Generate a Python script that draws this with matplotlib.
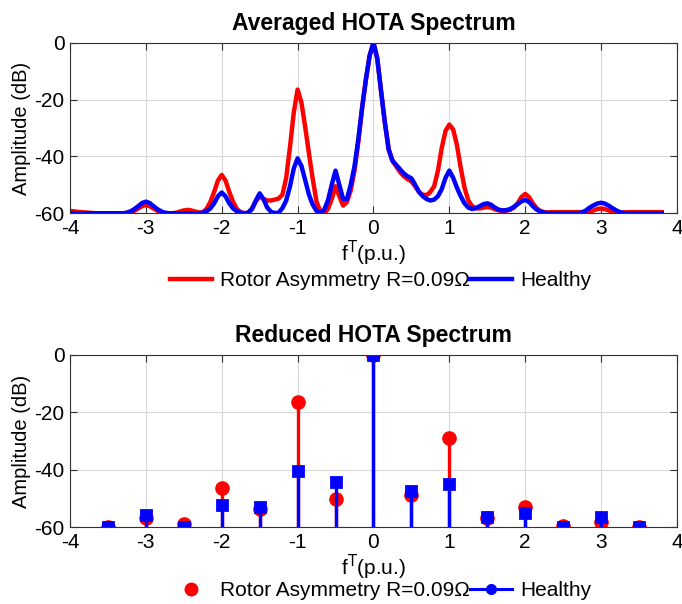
import numpy as np
import matplotlib
matplotlib.use("Agg")
import matplotlib.pyplot as plt
from matplotlib.lines import Line2D

plt.rcParams['font.family'] = ['Liberation Sans', 'DejaVu Sans']
plt.rcParams['axes.unicode_minus'] = False

# averaged spectrum, sampled every 0.05 p.u. from -4 to 3.8
freq = np.round(np.arange(-4.0, 3.801, 0.05), 2)

avg_rotor = [
    -59.2, -59.3, -59.5, -59.6, -59.7, -59.8, -59.9, -60, -60, -60,
    -60, -60, -60, -60, -60, -59.9, -59.6, -59.1, -58.3, -57.5,
    -57.1, -57.5, -58.3, -59.1, -59.6, -59.9, -60, -60, -59.8, -59.4,
    -59.0, -58.8, -59.0, -59.4, -59.7, -59.6, -58.5, -56.0, -52.5, -48.5,
    -46.5, -48.5, -52.5, -56.0, -58.5, -59.6, -60, -59.8, -58.2, -55.8,
    -54.0, -55.0, -55.5, -55.5, -55.2, -54.8, -53.5, -47.5, -36.6, -24.5,
    -16.5, -21.0, -29.6, -39.0, -48.0, -56.0, -59.4, -60, -58.5, -55.0,
    -50.5, -54.0, -57.3, -56.0, -52.0, -45.0, -35.0, -23.0, -13.0, -4.5,
    0, -5.5, -17, -28, -37.5, -41.5, -43.5, -45.5, -47, -48,
    -48.8, -50.5, -52.5, -53.5, -53.6, -52.5, -50.5, -45, -37, -31,
    -28.8, -30.5, -36, -44, -51, -55.5, -57.5, -58.2, -58.3, -58,
    -57.8, -58, -58.6, -59, -59.2, -59.1, -58.8, -58, -56.5, -54.3,
    -53.2, -54.3, -56.5, -58.2, -59.2, -59.6, -59.7, -59.6, -59.6, -59.6,
    -59.6, -59.6, -59.6, -59.6, -59.6, -59.6, -59.5, -59.4, -59.0, -58.5,
    -58.3, -58.5, -59.0, -59.4, -59.7, -59.7, -59.7, -59.6, -59.6, -59.6,
    -59.6, -59.6, -59.6, -59.6, -59.6, -59.6, -59.6,
]

avg_healthy = [
    -59.9, -60, -60, -60, -60, -60, -60, -60, -60, -60,
    -60, -60, -60, -60, -60, -59.8, -59.3, -58.5, -57.5, -56.4,
    -55.9, -56.4, -57.5, -58.5, -59.3, -59.8, -60, -60, -60, -60,
    -60, -60, -60, -60, -60, -59.8, -59.3, -58.3, -56.5, -54.0,
    -52.7, -54.0, -56.5, -58.3, -59.3, -59.8, -60, -59.8, -58.5, -55.5,
    -53.0, -55.0, -58.0, -59.5, -59.9, -59.8, -58.2, -55.5, -50.5, -44.2,
    -40.7, -43.3, -48.3, -53.5, -57.0, -59.2, -59.8, -58.8, -55.5, -50.0,
    -45.0, -50.0, -55.0, -55.0, -50.0, -43.5, -34.0, -23.0, -13.0, -4.5,
    0, -5.5, -17, -28, -37.5, -41.5, -43, -44.5, -46, -47,
    -47.7, -50, -52.5, -54, -55, -55.5, -55.2, -54, -51.5, -47.5,
    -45, -47.5, -51, -54, -56.5, -58, -58.5, -58.2, -57.5, -56.8,
    -56.5, -57, -58, -58.7, -59, -58.9, -58.5, -57.8, -56.8, -55.8,
    -55.3, -56, -57.5, -58.7, -59.4, -59.8, -60, -60, -60, -60,
    -60, -60, -60, -60, -60, -59.7, -59, -58, -57.2, -56.6,
    -56.3, -56.6, -57.3, -58.2, -59, -59.6, -59.9, -60, -60, -60,
    -60, -60, -60, -60, -60, -60, -60,
]

# reduced spectrum (harmonics every 0.5 p.u.)
harm = [-3.5, -3, -2.5, -2, -1.5, -1, -0.5, 0, 0.5, 1, 1.5, 2, 2.5, 3, 3.5]
red_rotor = [-60, -56.9, -58.7, -46.4, -53.6, -16.5, -50.1, 0, -48.7, -28.8,
             -56.6, -52.8, -59.4, -58.3, -60]
red_healthy = [-60, -55.7, -60, -52.2, -52.8, -40.4, -44.3, 0, -47.4, -44.8,
               -56.5, -54.9, -60, -56.3, -60]

lab_rotor = 'Rotor Asymmetry R=0.09Ω'
lab_healthy = 'Healthy'
c_red = '#ff0000'
c_blue = '#0000ff'

fig = plt.figure(figsize=(6.82, 6.04), dpi=100)
ax1 = fig.add_axes([0.1026, 0.6469, 0.890, 0.2824])
ax2 = fig.add_axes([0.1026, 0.1270, 0.890, 0.2853])

ax1.plot(freq, avg_rotor, color=c_red, lw=3.2, label=lab_rotor)
ax1.plot(freq, avg_healthy, color=c_blue, lw=3.2, label=lab_healthy)

m1, s1, b1 = ax2.stem(harm, red_rotor, bottom=-60, basefmt=' ')
plt.setp(s1, color=c_red, lw=2.4)
plt.setp(m1, color=c_red, marker='o', markersize=9.5)
m2, s2, b2 = ax2.stem(harm, red_healthy, bottom=-60, basefmt=' ')
plt.setp(s2, color=c_blue, lw=2.4)
plt.setp(m2, color=c_blue, marker='s', markersize=6.5, markeredgewidth=2)

titles = ['Averaged HOTA Spectrum', 'Reduced HOTA Spectrum']
for ax, t in zip([ax1, ax2], titles):
    ax.set_xlim(-4, 4)
    ax.set_ylim(-60, 0)
    ax.set_xticks(range(-4, 5))
    ax.set_yticks([-60, -40, -20, 0])
    ax.grid(True, color='#d9d9d9', lw=0.8)
    ax.set_axisbelow(True)
    ax.tick_params(direction='in', top=True, right=True, labelsize=15,
                   length=5, pad=4, color='#333333')
    for sp in ax.spines.values():
        sp.set_color('#333333')
    ax.set_title(t, fontsize=16.5, fontweight='bold', pad=9)
    ax.set_ylabel('Amplitude (dB)', fontsize=14.5, labelpad=2)
    ax.set_xlabel(r'f$^{\mathrm{T}}$(p.u.)', fontsize=15, labelpad=1)

fig.legend(handles=ax1.get_lines(), loc='center', bbox_to_anchor=(0.558, 0.535),
           ncol=2, frameon=False, fontsize=15, handlelength=2.0,
           handletextpad=0.4, columnspacing=0.0)

h_red = Line2D([], [], color=c_red, marker='o', markersize=9, ls='none')
h_blue = Line2D([], [], color=c_blue, marker='o', markersize=7, lw=2.2)
fig.legend(handles=[h_red, h_blue], labels=[lab_rotor, lab_healthy], loc='center',
           bbox_to_anchor=(0.558, 0.022), ncol=2, frameon=False, fontsize=15,
           handlelength=2.0, handletextpad=0.4, columnspacing=0.0, numpoints=1)

fig.savefig('out.png', dpi=100)
